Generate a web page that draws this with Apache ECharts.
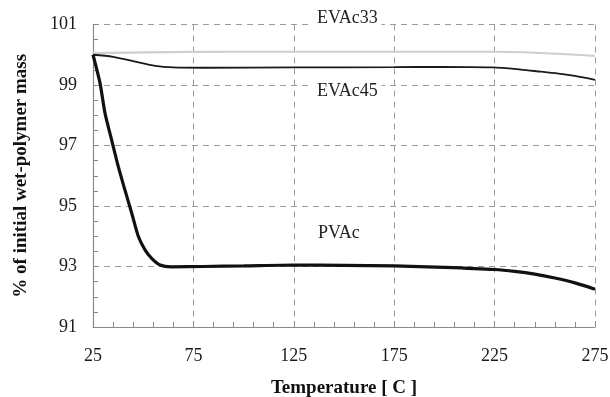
<!DOCTYPE html>
<html>
<head>
<meta charset="utf-8">
<script src="https://cdn.jsdelivr.net/npm/echarts@6/dist/echarts.min.js"></script>
<style>html,body{margin:0;padding:0;background:#fff}#c{width:610px;height:397px}</style>
</head>
<body>
<div id="c"></div>
<script>
var pvacT = [25, 28.5, 31, 34.3, 37.6, 40.9, 44.3, 47.6, 50.9, 54.2, 58.4, 64, 80, 100, 125, 150, 175, 200, 225, 235, 245, 255, 265, 275];
var pvacY = [100, 99.06, 98.06, 97.18, 96.3, 95.53, 94.76, 93.99, 93.55, 93.27, 93.05, 92.99, 93.0, 93.02, 93.05, 93.04, 93.02, 92.97, 92.9, 92.84, 92.75, 92.62, 92.46, 92.25];
var evac45T = [25, 35, 46, 56, 65, 80, 125, 175, 198, 224, 238, 248, 258, 265, 275];
var evac45Y = [100, 99.93, 99.77, 99.63, 99.58, 99.57, 99.58, 99.59, 99.6, 99.58, 99.51, 99.44, 99.37, 99.3, 99.17];
var evac33T = [25, 50, 100, 150, 200, 225, 250, 275];
var evac33Y = [100.05, 100.08, 100.1, 100.1, 100.1, 100.1, 100.05, 99.96];
var xTicks = [25, 75, 125, 175, 225, 275];
var yTicks = [91, 93, 95, 97, 99, 101];
var seriesNames = ['EVAc33', 'EVAc45', 'PVAc'];

function pairs(t, y) { return t.map(function (v, i) { return [v, y[i]]; }); }

var FONT = "'Liberation Serif', 'DejaVu Serif', serif";
var AX = '#8a8a8a';
var chart = echarts.init(document.getElementById('c'), null, { renderer: 'canvas' });

function mainAxis(extra) {
  return Object.assign({
    type: 'value', gridIndex: 0,
    axisLine: { show: true, lineStyle: { color: AX, width: 1.2 } },
    axisTick: { show: true, inside: true, length: 6, lineStyle: { color: AX } },
    splitLine: { show: true, showMinLine: false, showMaxLine: true, lineStyle: { color: '#9a9a9a', type: [6, 5], width: 1 } },
    axisLabel: { color: '#1a1a1a', fontFamily: FONT, fontSize: 18 },
    nameLocation: 'middle',
    nameTextStyle: { color: '#111', fontFamily: FONT, fontSize: 19, fontWeight: 'bold' }
  }, extra);
}
function minorAxis(extra) {
  return Object.assign({
    type: 'value', gridIndex: 1,
    axisLine: { show: false },
    axisTick: { show: true, inside: true, length: 5, lineStyle: { color: AX } },
    splitLine: { show: false },
    axisLabel: { show: false }
  }, extra);
}

var gridRect = { left: 93, right: 15, top: 24.5, bottom: 70, containLabel: false, outerBoundsMode: 'none' };
var option = {
  animation: false,
  backgroundColor: '#fff',
  grid: [Object.assign({}, gridRect), Object.assign({}, gridRect)],
  xAxis: [
    mainAxis({ min: xTicks[0], max: xTicks[xTicks.length - 1], interval: 50,
      name: 'Temperature [ C ]', nameGap: 52,
      axisLabel: { color: '#1a1a1a', fontFamily: FONT, fontSize: 18, margin: 20 } }),
    minorAxis({ position: 'bottom', min: xTicks[0], max: xTicks[xTicks.length - 1], interval: 10 })
  ],
  yAxis: [
    mainAxis({ min: yTicks[0], max: yTicks[yTicks.length - 1], interval: 2,
      name: '% of initial wet-polymer mass', nameGap: 62,
      axisLabel: { color: '#1a1a1a', fontFamily: FONT, fontSize: 18, margin: 16 } }),
    minorAxis({ position: 'left', min: yTicks[0], max: yTicks[yTicks.length - 1], interval: 0.5 })
  ],
  series: [
    { name: seriesNames[0], type: 'line', data: pairs(evac33T, evac33Y), smooth: 0.4, showSymbol: false,
      lineStyle: { color: '#cfcfcf', width: 2.2 }, z: 3 },
    { name: seriesNames[1], type: 'line', data: pairs(evac45T, evac45Y), smooth: 0.3, showSymbol: false,
      lineStyle: { color: '#1a1a1a', width: 1.8 }, z: 4 },
    { name: seriesNames[2], type: 'line', data: pairs(pvacT, pvacY), smooth: 0.25, showSymbol: false,
      lineStyle: { color: '#111', width: 3.2 }, z: 5 }
  ],
  graphic: [
    { type: 'text', left: 313, top: 9, z: 10, style: { text: seriesNames[0], font: '18px ' + FONT, fill: '#222', backgroundColor: '#fff', padding: [0, 4] } },
    { type: 'text', left: 313, top: 82, z: 10, style: { text: seriesNames[1], font: '18px ' + FONT, fill: '#222', backgroundColor: '#fff', padding: [0, 4] } },
    { type: 'text', left: 318, top: 224, z: 10, style: { text: seriesNames[2], font: '18px ' + FONT, fill: '#222' } }
  ]
};
chart.setOption(option);
</script>
</body>
</html>
